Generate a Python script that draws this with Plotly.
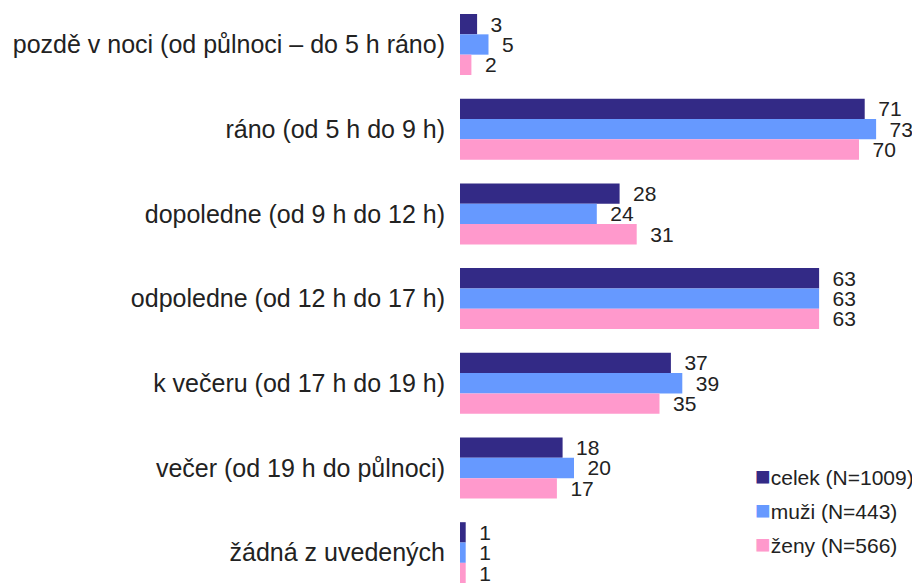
import plotly.graph_objects as go

kategorie = [
    "pozdě v noci (od půlnoci – do 5 h ráno)",
    "ráno (od 5 h do 9 h)",
    "dopoledne (od 9 h do 12 h)",
    "odpoledne (od 12 h do 17 h)",
    "k večeru (od 17 h do 19 h)",
    "večer (od 19 h do půlnoci)",
    "žádná z uvedených",
]
celek = [3, 71, 28, 63, 37, 18, 1]
muzi = [5, 73, 24, 63, 39, 20, 1]
zeny = [2, 70, 31, 63, 35, 17, 1]

serie = [
    ("celek (N=1009)", celek, "#332A86"),
    ("muži (N=443)", muzi, "#6699FF"),
    ("ženy (N=566)", zeny, "#FF99CC"),
]

pozice = list(range(len(kategorie)))
pismo = "Liberation Sans, Arial, sans-serif"

fig = go.Figure()
for jmeno, hodnoty, barva in serie:
    fig.add_bar(
        y=pozice,
        x=hodnoty,
        name=jmeno,
        orientation="h",
        marker=dict(color=barva, line=dict(width=0)),
        texttemplate="\u2002%{x}",
        textposition="outside",
        constraintext="none",
        cliponaxis=False,
        textfont=dict(size=21, color="#222222", family=pismo),
        showlegend=False,
    )

# vlastni legenda (ctverecek tesne u textu jako v originale)
legenda_y = [0.1861, 0.1270, 0.0678]
for (jmeno, _, barva), ly in zip(serie, legenda_y):
    fig.add_annotation(
        xref="paper", yref="paper", x=0.637, y=ly,
        xanchor="left", yanchor="middle", showarrow=False,
        text=f"<span style='color:{barva};font-size:26px'>■</span>{jmeno}",
        font=dict(size=21, color="#222222", family=pismo),
    )

fig.update_layout(
    width=912,
    height=575,
    barmode="group",
    bargap=0.28,
    bargroupgap=0,
    plot_bgcolor="white",
    paper_bgcolor="white",
    margin=dict(l=452, r=0, t=0, b=0),
    font=dict(family=pismo, color="#222222"),
)
fig.update_xaxes(range=[0, 80.7], visible=False, showgrid=False, zeroline=False)
fig.update_yaxes(
    range=[6.358, -0.431],
    tickmode="array",
    tickvals=pozice,
    ticktext=kategorie,
    showgrid=False,
    zeroline=False,
    showline=False,
    ticks="",
    ticklabelstandoff=14,
    tickfont=dict(size=25),
)

fig.write_html("out.html")
